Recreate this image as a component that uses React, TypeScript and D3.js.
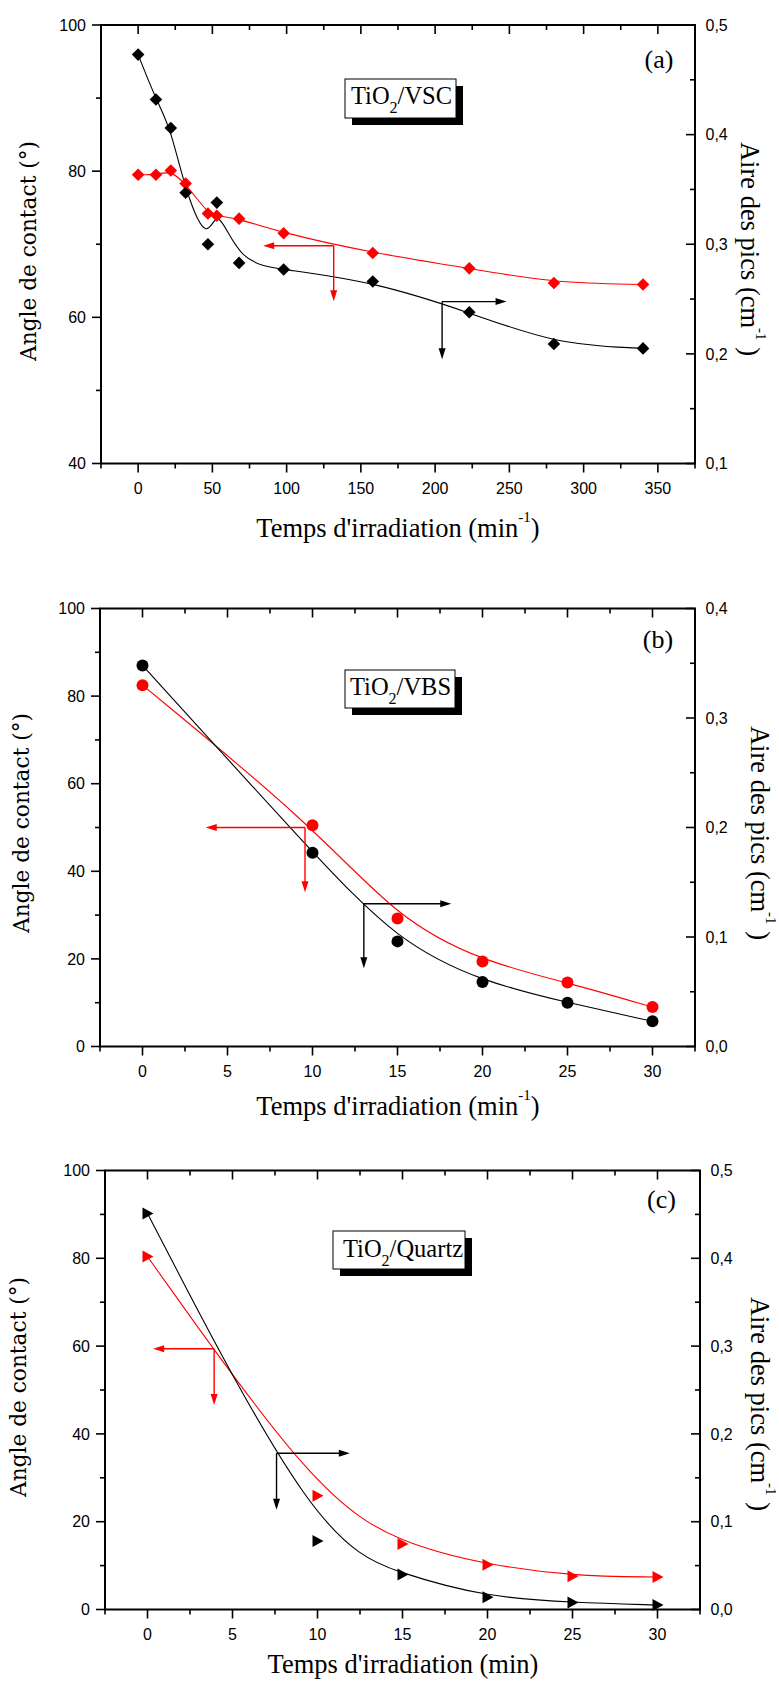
import React from 'react';
import * as d3 from 'd3';

// ---------------- data ----------------
// Panel (a) TiO2/VSC
const timeA = [0, 12, 22, 32, 47, 53, 68, 98, 158, 223, 280, 340];
const angleA = [79.5, 79.5, 80.1, 78.3, 74.2, 73.9, 73.5, 71.5, 68.8, 66.7, 64.7, 64.5];
const aireA = [0.473, 0.432, 0.406, 0.347, 0.3, 0.338, 0.283, 0.277, 0.266, 0.238, 0.209, 0.205];

// Panel (b) TiO2/VBS
const timeB = [0, 10, 15, 20, 25, 30];
const angleB = [82.5, 50.5, 29.2, 19.4, 14.6, 9.0];
const aireB = [0.348, 0.177, 0.096, 0.059, 0.04, 0.023];

// Panel (c) TiO2/Quartz
const timeC = [0, 10, 15, 20, 25, 30];
const angleC = [80.4, 25.9, 14.9, 10.2, 7.6, 7.4];
const aireC = [0.451, 0.078, 0.04, 0.014, 0.008, 0.005];

// tick values
const xMajorA = [0, 50, 100, 150, 200, 250, 300, 350];
const xMajorBC = [0, 5, 10, 15, 20, 25, 30];
const leftMajorA = [40, 60, 80, 100];
const leftMajorBC = [0, 20, 40, 60, 80, 100];
const rightMajorA = [0.1, 0.2, 0.3, 0.4, 0.5];
const rightMajorB = [0.0, 0.1, 0.2, 0.3, 0.4];
const rightMajorC = [0.0, 0.1, 0.2, 0.3, 0.4, 0.5];

const RED = '#ff0000';
const BLACK = '#000000';
const TICK_FONT = '"Liberation Sans", Arial, sans-serif';
const SERIF = '"Liberation Serif", "Times New Roman", serif';
const WIDE_SERIF = '"DejaVu Serif", "Liberation Serif", serif';

type Arrow = { cx: number; cy: number; hx: number; vy: number; axis: 'left' | 'right'; color: string };

type Panel = {
  left: number; right: number; top: number; bottom: number;
  xDomain: [number, number]; xMajor: number[]; xMinorStep: number;
  leftDomain: [number, number]; leftMajor: number[]; leftMinorStep: number;
  rightDomain: [number, number]; rightMajor: number[]; rightMinorStep: number;
  time: number[]; angle: number[]; aire: number[];
  marker: 'diamond' | 'circle' | 'triangle';
  arrows: Arrow[];
  box: { x: number; y: number; w: number; h: number; tx: number; ty: number; suffix: string };
  tag: { text: string; x: number; y: number };
  xTitle: { x: number; y: number; sup: boolean };
  leftTitle: { x: number; y: number };
  rightTitle: { x: number; y: number };
};

const panels: Panel[] = [
  {
    left: 101, right: 695, top: 25, bottom: 463.5,
    xDomain: [-25, 375], xMajor: xMajorA, xMinorStep: 25,
    leftDomain: [40, 100], leftMajor: leftMajorA, leftMinorStep: 10,
    rightDomain: [0.1, 0.5], rightMajor: rightMajorA, rightMinorStep: 0.05,
    time: timeA, angle: angleA, aire: aireA, marker: 'diamond',
    arrows: [
      { cx: 131.7, cy: 69.8, hx: 84.2, vy: 62.2, axis: 'left', color: RED },
      { cx: 204.7, cy: 0.2477, hx: 248.1, vy: 0.1951, axis: 'right', color: BLACK },
    ],
    box: { x: 345, y: 79, w: 111, h: 39, tx: 351, ty: 104, suffix: '/VSC' },
    tag: { text: '(a)', x: 659, y: 60 },
    xTitle: { x: 398, y: 537, sup: true },
    leftTitle: { x: 36, y: 251 },
    rightTitle: { x: 741, y: 249 },
  },
  {
    left: 100, right: 695, top: 608.5, bottom: 1046.5,
    xDomain: [-2.5, 32.5], xMajor: xMajorBC, xMinorStep: 2.5,
    leftDomain: [0, 100], leftMajor: leftMajorBC, leftMinorStep: 10,
    rightDomain: [0, 0.4], rightMajor: rightMajorB, rightMinorStep: 0.05,
    time: timeB, angle: angleB, aire: aireB, marker: 'circle',
    arrows: [
      { cx: 9.56, cy: 50.0, hx: 3.72, vy: 35.2, axis: 'left', color: RED },
      { cx: 13.02, cy: 0.1304, hx: 18.16, vy: 0.0714, axis: 'right', color: BLACK },
    ],
    box: { x: 345, y: 670, w: 110, h: 38, tx: 350, ty: 695, suffix: '/VBS' },
    tag: { text: '(b)', x: 658, y: 640 },
    xTitle: { x: 398, y: 1115, sup: true },
    leftTitle: { x: 29, y: 823 },
    rightTitle: { x: 751, y: 833 },
  },
  {
    left: 105, right: 700, top: 1170.5, bottom: 1609.5,
    xDomain: [-2.5, 32.5], xMajor: xMajorBC, xMinorStep: 2.5,
    leftDomain: [0, 100], leftMajor: leftMajorBC, leftMinorStep: 10,
    rightDomain: [0, 0.5], rightMajor: rightMajorC, rightMinorStep: 0.05,
    time: timeC, angle: angleC, aire: aireC, marker: 'triangle',
    arrows: [
      { cx: 3.92, cy: 59.4, hx: 0.33, vy: 46.6, axis: 'left', color: RED },
      { cx: 7.59, cy: 0.178, hx: 11.9, vy: 0.1135, axis: 'right', color: BLACK },
    ],
    box: { x: 333, y: 1231, w: 132, h: 38, tx: 343, ty: 1257, suffix: '/Quartz' },
    tag: { text: '(c)', x: 661.5, y: 1200 },
    xTitle: { x: 403, y: 1673, sup: false },
    leftTitle: { x: 26, y: 1387 },
    rightTitle: { x: 751, y: 1404 },
  },
];

const fmtComma = (v: number) => d3.format('.1f')(v).replace('.', ',');

function range(a: number, b: number, step: number) {
  const out: number[] = [];
  const n = Math.round((b - a) / step);
  for (let i = 0; i <= n; i++) out.push(a + i * step);
  return out;
}

function isMajor(v: number, majors: number[]) {
  return majors.some((m) => Math.abs(m - v) < 1e-9);
}

function markerPath(kind: Panel['marker'], x: number, y: number) {
  if (kind === 'diamond') return `M${x},${y - 6.3}L${x + 6.3},${y}L${x},${y + 6.3}L${x - 6.3},${y}Z`;
  if (kind === 'triangle') return `M${x - 5},${y - 6}L${x + 6},${y}L${x - 5},${y + 6}Z`;
  return '';
}

function PanelView({ p }: { p: Panel }) {
  const x = d3.scaleLinear().domain(p.xDomain).range([p.left, p.right]);
  const yL = d3.scaleLinear().domain(p.leftDomain).range([p.bottom, p.top]);
  const yR = d3.scaleLinear().domain(p.rightDomain).range([p.bottom, p.top]);
  const MAJ = 9;
  const MIN = 5;

  const xTicks = range(p.xDomain[0], p.xDomain[1], p.xMinorStep);
  const lTicks = range(p.leftDomain[0], p.leftDomain[1], p.leftMinorStep);
  const rTicks = range(p.rightDomain[0], p.rightDomain[1], p.rightMinorStep);

  const redPts: [number, number][] = p.time.map((t, i) => [x(t), yL(p.angle[i])]);
  const blackPts: [number, number][] = p.time.map((t, i) => [x(t), yR(p.aire[i])]);
  const line = d3.line().curve(d3.curveBasis);

  const renderMarkers = (pts: [number, number][], color: string) =>
    pts.map(([px, py], i) =>
      p.marker === 'circle' ? (
        <circle key={i} cx={px} cy={py} r={6} fill={color} />
      ) : (
        <path key={i} d={markerPath(p.marker, px, py)} fill={color} />
      )
    );

  const arrowEls = p.arrows.map((a, i) => {
    const ys = a.axis === 'left' ? yL : yR;
    const cx = x(a.cx);
    const cy = ys(a.cy);
    const hx = x(a.hx);
    const vy = ys(a.vy);
    const dir = hx < cx ? -1 : 1;
    const L = 11;
    const W = 3.5;
    return (
      <g key={i} stroke={a.color} fill={a.color}>
        <line x1={cx} y1={cy} x2={hx - dir * L * 0.6} y2={cy} strokeWidth={1.4} />
        <line x1={cx} y1={cy} x2={cx} y2={vy - L * 0.6} strokeWidth={1.4} />
        <path d={`M${hx},${cy}L${hx - dir * L},${cy - W}L${hx - dir * L},${cy + W}Z`} stroke="none" />
        <path d={`M${cx},${vy}L${cx - W},${vy - L}L${cx + W},${vy - L}Z`} stroke="none" />
      </g>
    );
  });

  return (
    <g>
      {/* curves */}
      <path d={line(redPts) || ''} fill="none" stroke={RED} strokeWidth={1.1} />
      <path d={line(blackPts) || ''} fill="none" stroke={BLACK} strokeWidth={1.1} />
      {renderMarkers(redPts, RED)}
      {renderMarkers(blackPts, BLACK)}
      {arrowEls}

      {/* frame */}
      <rect x={p.left} y={p.top} width={p.right - p.left} height={p.bottom - p.top} fill="none" stroke="#000" strokeWidth={2} />

      {/* x ticks */}
      {xTicks.map((v, i) => {
        const len = isMajor(v, p.xMajor) ? MAJ : MIN;
        const px = x(v);
        return (
          <g key={'x' + i} stroke="#000" strokeWidth={1.6}>
            <line x1={px} x2={px} y1={p.bottom} y2={p.bottom + len} />
            <line x1={px} x2={px} y1={p.top} y2={p.top + len} />
          </g>
        );
      })}
      {p.xMajor.map((v) => (
        <text key={'xl' + v} x={x(v)} y={p.bottom + 30.5} textAnchor="middle" fontFamily={TICK_FONT} fontSize={16}>
          {String(v)}
        </text>
      ))}

      {/* left ticks */}
      {lTicks.map((v, i) => {
        const len = isMajor(v, p.leftMajor) ? MAJ : MIN;
        const py = yL(v);
        return <line key={'l' + i} x1={p.left - len} x2={p.left} y1={py} y2={py} stroke="#000" strokeWidth={1.6} />;
      })}
      {p.leftMajor.map((v) => (
        <text key={'ll' + v} x={p.left - 15} y={yL(v) + 5.7} textAnchor="end" fontFamily={TICK_FONT} fontSize={16}>
          {String(v)}
        </text>
      ))}

      {/* right ticks */}
      {rTicks.map((v, i) => {
        const len = isMajor(v, p.rightMajor) ? MAJ : MIN;
        const py = yR(v);
        return <line key={'r' + i} x1={p.right - len} x2={p.right} y1={py} y2={py} stroke="#000" strokeWidth={1.6} />;
      })}
      {p.rightMajor.map((v) => (
        <text key={'rl' + v} x={p.right + 10.5} y={yR(v) + 5.7} textAnchor="start" fontFamily={TICK_FONT} fontSize={16}>
          {fmtComma(v)}
        </text>
      ))}

      {/* titles */}
      <text x={p.xTitle.x} y={p.xTitle.y} textAnchor="middle" fontFamily={SERIF} fontSize={26.5}>
        Temps d'irradiation (min
        {p.xTitle.sup ? (
          <>
            <tspan fontSize={15} dy={-15}>-1</tspan>
            <tspan dy={15}>)</tspan>
          </>
        ) : (
          ')'
        )}
      </text>
      <text
        transform={`translate(${p.leftTitle.x},${p.leftTitle.y}) rotate(-90)`}
        textAnchor="middle"
        fontFamily={WIDE_SERIF}
        fontSize={22}
        textLength={220}
        lengthAdjust="spacingAndGlyphs"
      >
        Angle de contact (°)
      </text>
      <text
        transform={`translate(${p.rightTitle.x},${p.rightTitle.y}) rotate(90)`}
        textAnchor="middle"
        fontFamily={SERIF}
        fontSize={26.5}
      >
        Aire des pics (cm
        <tspan fontSize={15} dy={-15}>-1</tspan>
        <tspan dy={15}> )</tspan>
      </text>

      {/* tag */}
      <text x={p.tag.x} y={p.tag.y + 8} textAnchor="middle" fontFamily={SERIF} fontSize={26}>
        {p.tag.text}
      </text>

      {/* sample label box */}
      <rect x={p.box.x + 7} y={p.box.y + 7} width={p.box.w} height={p.box.h} fill="#000" />
      <rect x={p.box.x} y={p.box.y} width={p.box.w} height={p.box.h} fill="#fff" stroke="#000" strokeWidth={1} />
      <text x={p.box.tx} y={p.box.ty} fontFamily={SERIF} fontSize={24.5}>
        TiO
        <tspan fontSize={16} dy={9}>2</tspan>
        <tspan dy={-9}>{p.box.suffix}</tspan>
      </text>
    </g>
  );
}

export default function App() {
  return (
    <svg
      width={779}
      height={1684}
      viewBox="0 0 779 1684"
      style={{ position: 'absolute', left: 0, top: 0, background: '#fff' }}
    >
      <rect x={0} y={0} width={779} height={1684} fill="#fff" />
      {panels.map((p, i) => (
        <PanelView key={i} p={p} />
      ))}
    </svg>
  );
}
